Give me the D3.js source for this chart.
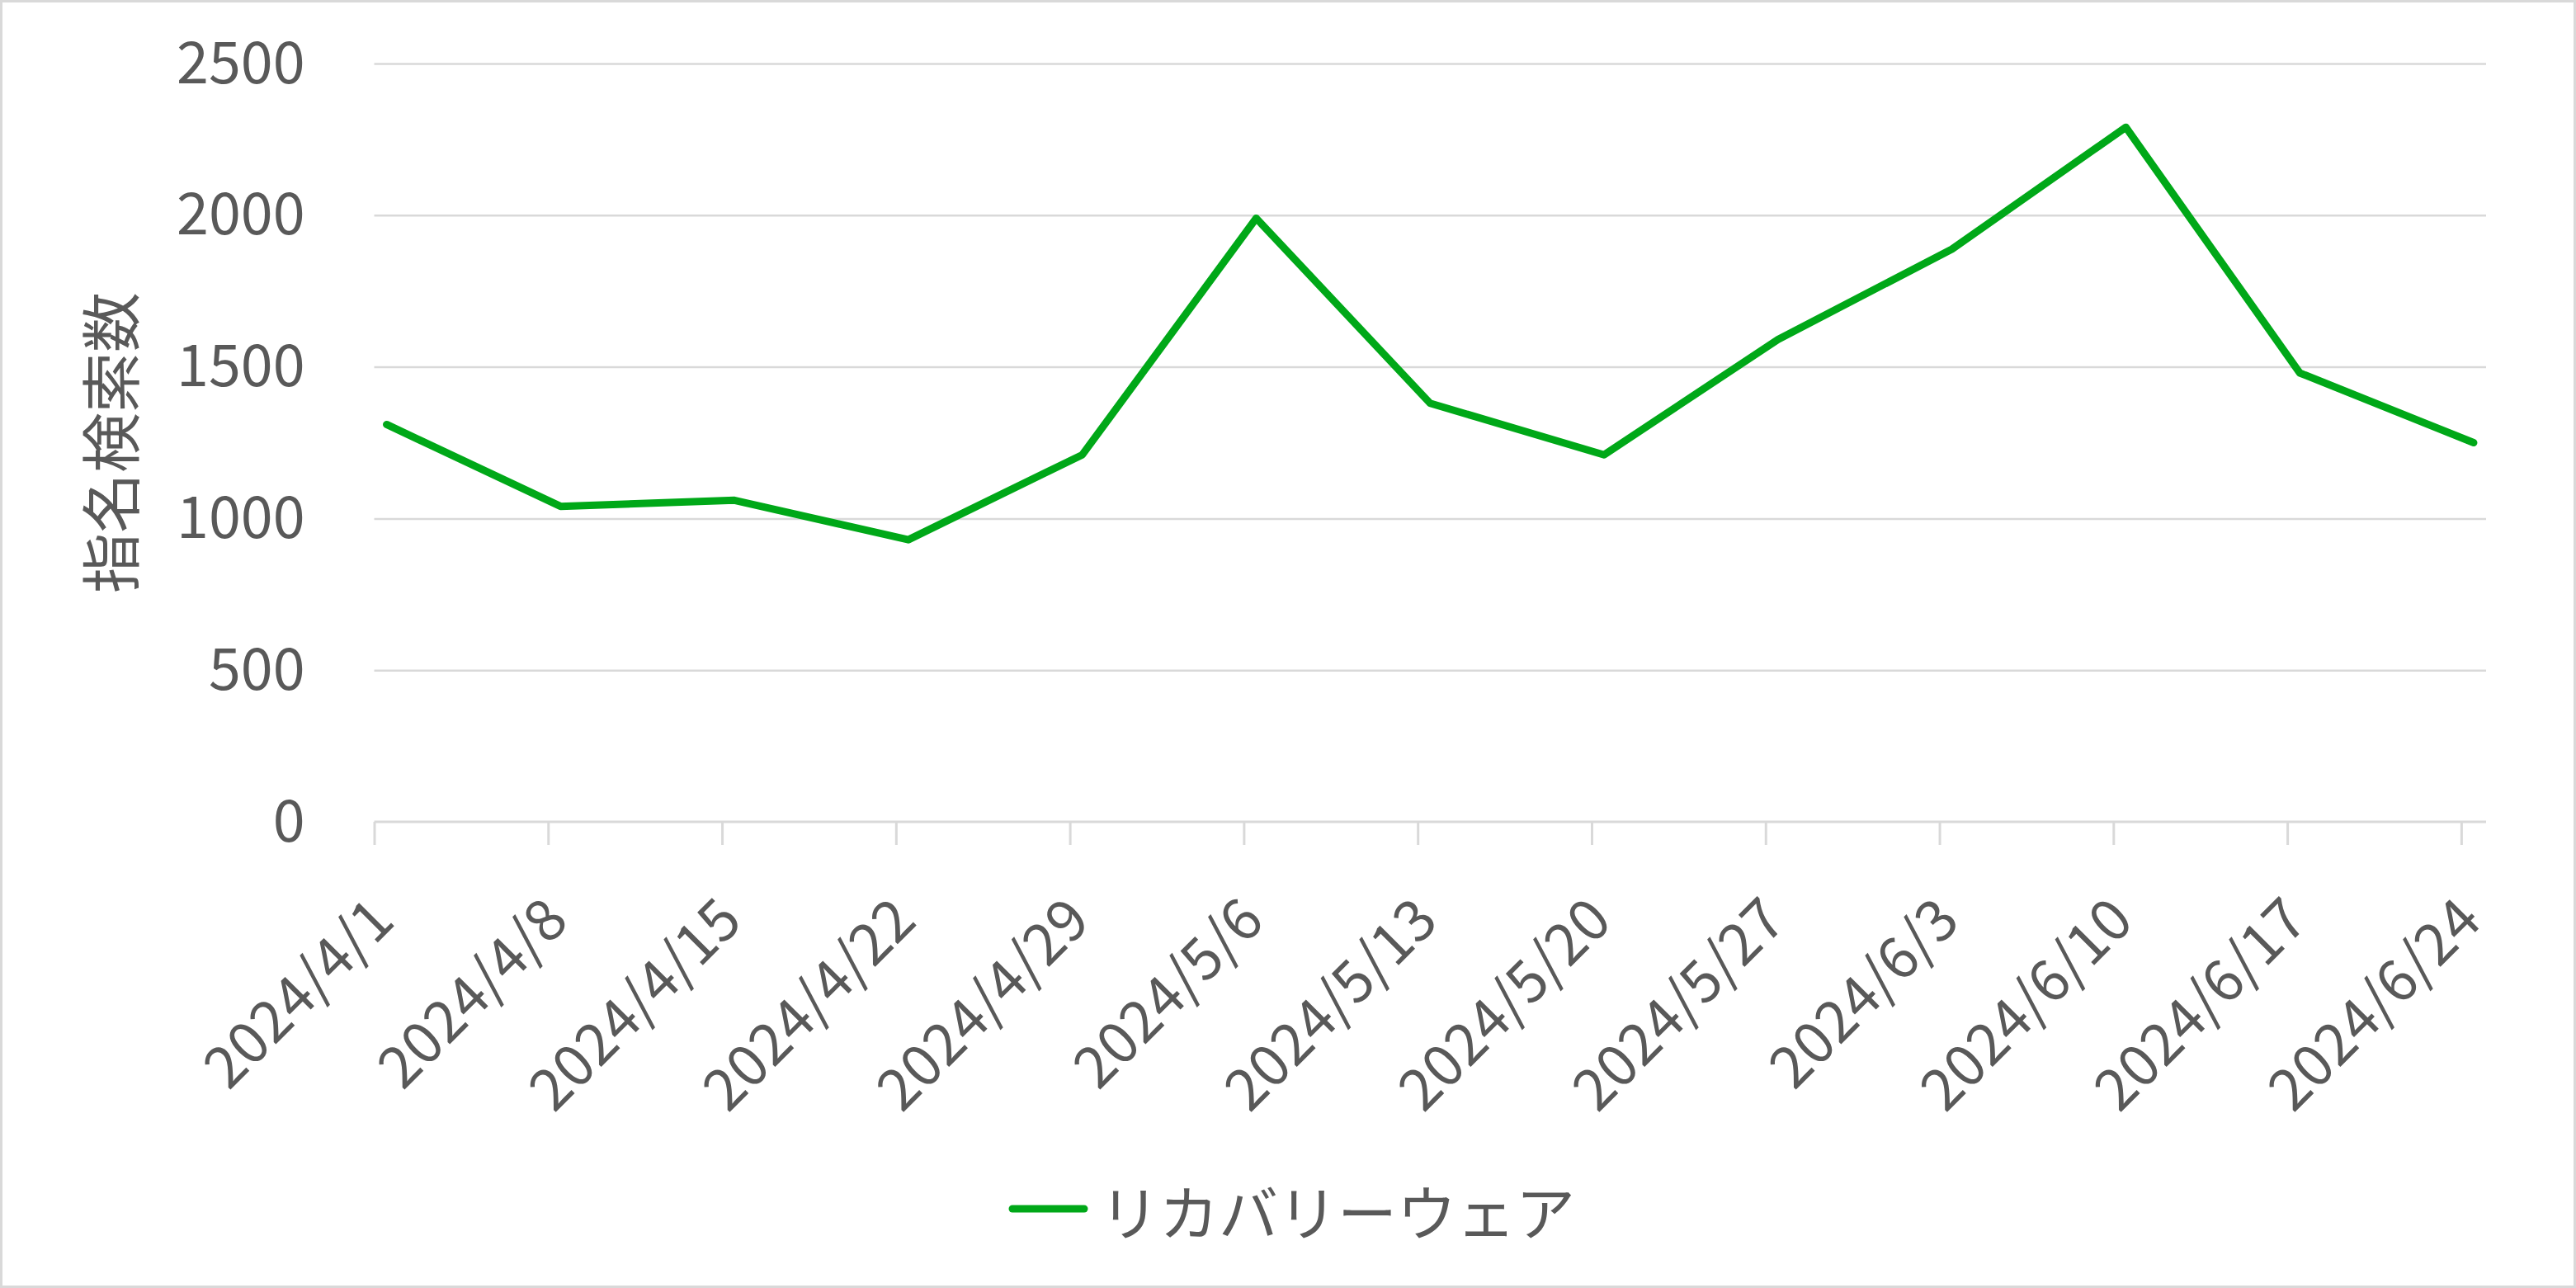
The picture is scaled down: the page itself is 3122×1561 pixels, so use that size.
<!DOCTYPE html>
<html>
<head>
<meta charset="utf-8">
<script src="https://cdn.jsdelivr.net/npm/d3@7"></script>
<style>
  html, body { margin: 0; padding: 0; background: #fff; }
  svg { display: block; }
  text { font-family: "Noto Sans CJK JP", "Noto Sans", sans-serif; fill: #595959; }
</style>
</head>
<body>
<svg id="chart" width="3122" height="1561"></svg>
<script>
// ---- data ----
const weekStarts = ["2024-04-01","2024-04-08","2024-04-15","2024-04-22","2024-04-29","2024-05-06","2024-05-13","2024-05-20","2024-05-27","2024-06-03","2024-06-10","2024-06-17","2024-06-24"];
const weekLabels = ["2024/4/1","2024/4/8","2024/4/15","2024/4/22","2024/4/29","2024/5/6","2024/5/13","2024/5/20","2024/5/27","2024/6/3","2024/6/10","2024/6/17","2024/6/24"];
const searchCounts = [1310, 1040, 1060, 930, 1210, 1990, 1380, 1210, 1590, 1888, 2290, 1480, 1250];
const yTicks = [0, 500, 1000, 1500, 2000, 2500];
const seriesName = "リカバリーウェア";
const yTitle = "指名検索数";

// ---- layout ----
const W = 3122, H = 1561;
const plot = { left: 453.5, right: 3013, top: 77, bottom: 996 };
const gridColor = "#d9d9d9";
const lineColor = "#00a818";
const fontSize = 70;
const titleSize = 73;

const svg = d3.select("#chart");

// chart border
svg.append("rect")
  .attr("x", 1.5).attr("y", 1.5)
  .attr("width", W - 3).attr("height", H - 3)
  .attr("fill", "#fff").attr("stroke", gridColor).attr("stroke-width", 3);

const parse = d3.utcParse("%Y-%m-%d");
const dates = weekStarts.map(parse);
const endDate = d3.utcDay.offset(dates[dates.length - 1], 1);

const x = d3.scaleUtc().domain([dates[0], endDate]).range([plot.left, plot.right]);
const y = d3.scaleLinear().domain([0, 2500]).range([plot.bottom, plot.top]);

// gridlines + y labels
const yAxis = d3.axisLeft(y)
  .tickValues(yTicks)
  .tickSize(-(plot.right - plot.left))
  .tickPadding(84)
  .tickFormat(d3.format("d"));
const gy = svg.append("g").attr("transform", `translate(${plot.left},0)`).call(yAxis);
gy.select(".domain").remove();
gy.selectAll(".tick line").attr("stroke", gridColor).attr("stroke-width", 2.5);
gy.selectAll(".tick text")
  .attr("font-size", fontSize)
  .attr("fill", "#595959")
  .attr("font-family", "'Noto Sans CJK JP', sans-serif")
  .attr("dy", "0.33em");
gy.selectAll(".tick").filter(d => d === 0).select("line").remove();

// x axis
const xAxis = d3.axisBottom(x)
  .tickValues(dates)
  .tickSize(28)
  .tickFormat((d, i) => weekLabels[i]);
const gx = svg.append("g").attr("transform", `translate(0,${plot.bottom})`).call(xAxis);
gx.select(".domain").attr("stroke", gridColor).attr("stroke-width", 3)
  .attr("d", `M${plot.left},0H${plot.right}`);
gx.selectAll(".tick line").attr("stroke", gridColor).attr("stroke-width", 3);
gx.selectAll(".tick text")
  .attr("font-size", fontSize)
  .attr("fill", "#595959")
  .attr("font-family", "'Noto Sans CJK JP', sans-serif")
  .attr("text-anchor", "end")
  .attr("y", 0).attr("dy", 0)
  .attr("transform", "translate(27,123) rotate(-45)");

// line
const pts = dates.map((d, i) => ({ t: d3.utcHour.offset(d, 12), v: searchCounts[i] }));
const line = d3.line().x(d => x(d.t)).y(d => y(d.v));
svg.append("path")
  .datum(pts)
  .attr("d", line)
  .attr("fill", "none")
  .attr("stroke", lineColor)
  .attr("stroke-width", 9)
  .attr("stroke-linejoin", "round")
  .attr("stroke-linecap", "round");

// y title
svg.append("text")
  .attr("transform", `translate(130,${(plot.top + plot.bottom) / 2}) rotate(-90)`)
  .attr("text-anchor", "middle")
  .attr("dominant-baseline", "central")
  .attr("font-size", titleSize)
  .text(yTitle);

// legend
const lg = svg.append("g");
lg.append("line")
  .attr("x1", 1227).attr("x2", 1314)
  .attr("y1", 1465).attr("y2", 1465)
  .attr("stroke", lineColor).attr("stroke-width", 9)
  .attr("stroke-linecap", "round");
lg.append("text")
  .attr("x", 1333).attr("y", 1465)
  .attr("dominant-baseline", "central")
  .attr("font-size", 72)
  .text(seriesName);
</script>
</body>
</html>
